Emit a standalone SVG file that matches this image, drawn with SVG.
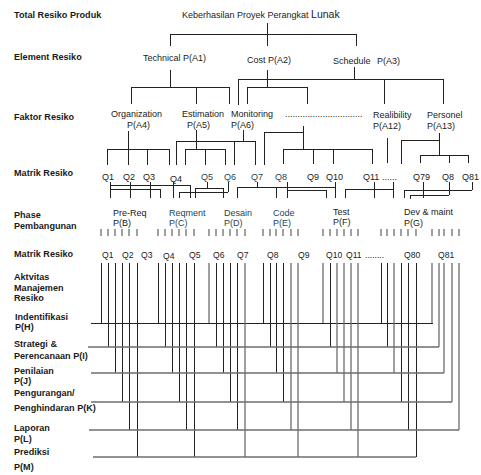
<svg xmlns="http://www.w3.org/2000/svg" width="481" height="475" viewBox="0 0 481 475">
<style>
text{font-family:"Liberation Sans",Arial,Helvetica,sans-serif;fill:#222}
.h{font-weight:bold;font-size:9.1px;fill:#1a1a1a}
.t{font-size:9px}
.tl{font-size:9px;fill:#1d4654}
.q{font-size:8.6px}
.k{fill:none;stroke:#222;stroke-width:1;shape-rendering:crispEdges}
.g{fill:none;stroke:#6e6e6e;stroke-width:1.3}
</style>
<rect width="481" height="475" fill="#fff"/>

<g id="row-headers">
<text class="h" x="14" y="18">Total Resiko Produk</text>
<text class="h" x="14" y="60">Element Resiko</text>
<text class="h" x="14" y="120">Faktor Resiko</text>
<text class="h" x="14" y="176">Matrik Resiko</text>
<text class="h" x="14" y="218">Phase</text>
<text class="h" x="14" y="229">Pembangunan</text>
<text class="h" x="14" y="257">Matrik Resiko</text>
<text class="h" x="14" y="280">Aktvitas</text>
<text class="h" x="14" y="291">Manajemen</text>
<text class="h" x="14" y="301">Resiko</text>
</g>

<g id="act-H"><text class="h" x="15" y="320">Indentifikasi</text><text class="h" x="15" y="330">P(H)</text></g>
<g id="act-I"><text class="h" x="14" y="347">Strategi &amp;</text><text class="h" x="14" y="359">Perencanaan P(I)</text></g>
<g id="act-J"><text class="h" x="14" y="374">Penilaian</text><text class="h" x="14" y="384">P(J)</text></g>
<g id="act-K"><text class="h" x="14" y="396">Pengurangan/</text><text class="h" x="14" y="411">Penghindaran P(K)</text></g>
<g id="act-L"><text class="h" x="14" y="431">Laporan</text><text class="h" x="14" y="442">P(L)</text></g>
<g id="act-M"><text class="h" x="14" y="455">Prediksi</text><text class="h" x="14" y="470">P(M)</text></g>

<g id="root"><text class="t" x="182" y="18">Keberhasilan Proyek Perangkat <tspan font-size="10.5px">Lunak</tspan></text></g>

<g id="A1"><text class="t" x="143" y="61">Technical P(A1)</text></g>
<g id="A2"><text class="t" x="247" y="63">Cost P(A2)</text></g>
<g id="A3"><text class="t" x="333" y="64">Schedule <tspan x="377">P(A3)</tspan></text></g>

<g id="A4"><text class="t" x="111" y="117">Organization</text><text class="t" x="127" y="128">P(A4)</text></g>
<g id="A5"><text class="t" x="182" y="117">Estimation</text><text class="t" x="187" y="128">P(A5)</text></g>
<g id="A6"><text class="t" x="231" y="117">Monitoring</text><text class="t" x="231" y="128">P(A6)</text></g>
<g id="A-dots"><text class="t" x="285" y="117">...............................</text></g>
<g id="A12"><text class="t" x="373" y="118">Realibility</text><text class="t" x="373" y="129">P(A12)</text></g>
<g id="A13"><text class="t" x="427" y="118">Personel</text><text class="t" x="427" y="129">P(A13)</text></g>

<g id="matrik-1">
<text class="t" x="102" y="180">Q1</text>
<text class="t" x="123" y="180">Q2</text>
<text class="t" x="143" y="180">Q3</text>
<text class="t" x="170" y="182">Q4</text>
<text class="tl" x="201" y="180">Q5</text>
<text class="tl" x="224" y="180">Q6</text>
<text class="tl" x="251" y="180">Q7</text>
<text class="tl" x="275" y="180">Q8</text>
<text class="t" x="307" y="180">Q9</text>
<text class="t" x="326" y="180">Q10</text>
<text class="t" x="363" y="180">Q11</text>
<text class="t" x="382" y="180">......</text>
<text class="t" x="413" y="180">Q79</text>
<text class="t" x="442" y="180">Q8</text>
<text class="t" x="462" y="180">Q81</text>
</g>

<g id="B"><text class="t" x="113" y="216">Pre-Req</text><text class="t" x="113" y="226">P(B)</text></g>
<g id="C"><text class="tl" x="169" y="216">Reqment</text><text class="tl" x="169" y="226">P(C)</text></g>
<g id="D"><text class="tl" x="224" y="216">Desain</text><text class="tl" x="224" y="226">P(D)</text></g>
<g id="E"><text class="tl" x="273" y="216">Code</text><text class="tl" x="273" y="226">P(E)</text></g>
<g id="F"><text class="t" x="333" y="215">Test</text><text class="t" x="333" y="225">P(F)</text></g>
<g id="G"><text class="t" x="404" y="215">Dev &amp; maint</text><text class="t" x="404" y="226">P(G)</text></g>

<g id="matrik-2">
<text class="q" x="102" y="258">Q1</text>
<text class="q" x="122" y="258">Q2</text>
<text class="q" x="141" y="258">Q3</text>
<text class="q" x="163" y="259" font-size="8px">Q4</text>
<text class="q" x="189" y="258">Q5</text>
<text class="q" x="213" y="258">Q6</text>
<text class="q" x="237" y="258">Q7</text>
<text class="q" x="267" y="258">Q8</text>
<text class="q" x="298" y="258">Q9</text>
<text class="q" x="326" y="258">Q10</text>
<text class="q" x="346" y="258">Q11</text>
<text class="q" x="365" y="258">........</text>
<text class="q" x="404" y="258">Q80</text>
<text class="q" x="438" y="258">Q81</text>
</g>

<g id="connectors">
<path class="k" d="M267 23V46 M170 34H356 M170 34V46 M356 34V46
M170 70V87 M131 87H229 M131 87V104 M196 87V104 M229 87V104
M267 70V87 M247 87H307 M247 87V104 M307 87V104
M354 67V79 M238 79H443 M238 79V105 M384 79V104 M443 79V104"/>
<path class="k" d="M128 131V165 M107 149H169 M107 149V165 M147 149V165 M169 149V165
M196 130V149 M185 149H225 M185 149V165 M205 149V165 M225 149V165
M243 130V141 M176 141H255 M176 141V165 M234 141V165 M255 141V165
M303 126V149 M264 132H303 M264 132V165 M283 149H372 M283 149V164 M313 149V164 M333 149V164 M372 149V164
M387 138V163
M439 133V155 M401 140H439 M401 140V164 M420 155H468 M420 155V163 M449 155V163 M468 155V163"/>
<path class="k" d="M110 182V198 M110 185H190 M110 189H160 M130 182V198 M150 182V198 M160 189V198 M173 182V198 M190 185V198
M179 192H228 M179 192V198 M228 182V192
M195 188H223 M207 182V188 M195 188V198 M223 188V198
M237 187H335 M237 187V198 M257 182V187 M276 187V198 M335 182V198
M287 182V198 M287 190H326 M326 190V198
M345 189H393 M345 189V198 M374 182V198 M393 182V198
M404 190H472 M404 190V198 M472 182V190
M410 195H449 M410 195V199 M449 182V195
M423 182V198"/>
<path class="g" d="M101 229V236 M108 229V236 M115 229V236 M122 229V236 M129 229V236 M137 229V236
M158 229V236 M165 229V236 M172 229V236 M179 229V236 M186 229V236 M194 229V236
M209 229V236 M216 229V236 M223 229V236 M230 229V236 M237 229V236 M245 229V236
M263 229V236 M270 229V236 M276 229V236 M283 229V236 M291 229V236 M298 229V236
M323 229V236 M330 229V236 M337 229V236 M344 229V236 M351 229V236 M358 229V236
M381 229V236 M387 229V236 M394 229V236 M401 229V236 M408 229V236 M416 229V236
M432 229V236 M439 229V236 M444 229V236 M452 229V236 M459 229V236"/>
<path class="k" d="M101 263V323 M108 263V347 M115 263V373 M122 263V402 M129 263V430 M137 263V457
M158 263V323 M165 263V347 M172 263V373 M179 263V402 M186 263V430 M194 263V457
M216 263V347 M223 263V373 M230 263V402 M237 263V430
M263 263V323 M270 263V347 M276 263V373 M283 263V402
M330 263V347
M381 263V323 M387 263V347 M401 263V402 M408 263V430 M416 263V457
M91 323H433"/>
<path class="g" d="M209 263V323 M245 263V457 M291 263V430 M298 263V457
M323 263V323 M337 263V373 M344 263V402 M351 263V430 M358 263V457
M394 263V373
M432 263V323 M439 263V347 M444 263V373 M452 263V402 M459 263V430
M88 347H439 M91 373H444 M91 402H452 M89 430H459 M93 457H416"/>
</g>
</svg>
